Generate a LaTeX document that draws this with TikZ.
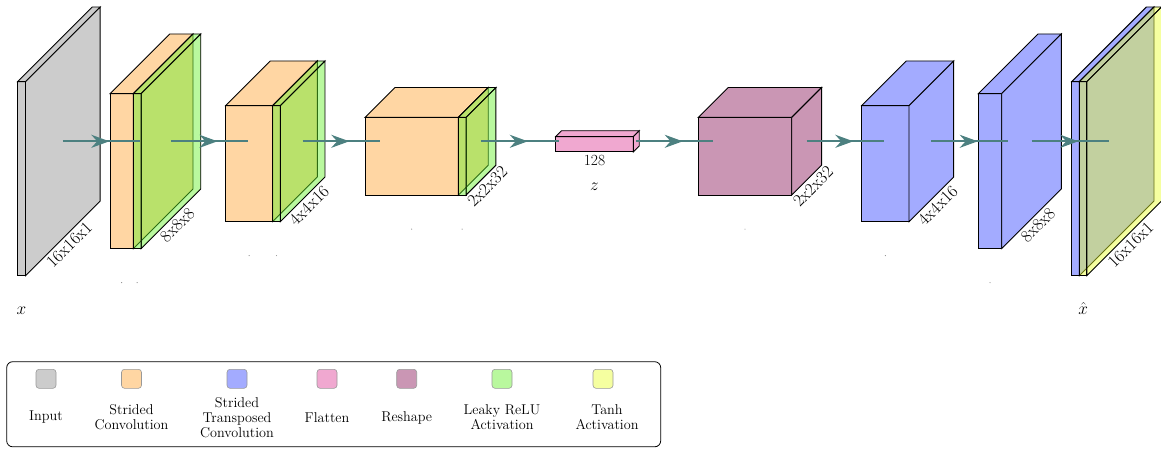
\documentclass[tikz,border=0pt]{standalone}
\usetikzlibrary{arrows.meta,decorations.markings}

\definecolor{inputgray}{RGB}{204,204,204}
\definecolor{convorange}{RGB}{255,214,163}
\definecolor{deconvblue}{RGB}{163,171,255}
\definecolor{flatpink}{RGB}{240,168,208}
\definecolor{reshapemauve}{RGB}{202,150,180}
\definecolor{leakygreen}{RGB}{100,240,40}
\definecolor{tanhyellow}{RGB}{233,255,44}
\definecolor{edgeteal}{RGB}{76,128,128}

% centre line of the network (mid depth of every block)
\newcommand{\netmid}{141.3}

% one block: #1 name, #2 left of front face, #3 width, #4 height, #5 face style
\newcommand{\layerbox}[5]{%
  \pgfmathsetmacro{\lbD}{0.385*#4}%
  \pgfmathsetmacro{\lbR}{#2+#3}%
  \pgfmathsetmacro{\lbT}{\netmid+\lbD/2-#4/2}%
  \pgfmathsetmacro{\lbB}{\lbT+#4}%
  \pgfmathsetmacro{\lbC}{#2+#3/2}%
  \draw[#5] (#2,\lbT) rectangle (\lbR,\lbB);
  \draw[#5] (#2,\lbT) -- ++(\lbD,-\lbD) -- ++(#3,0) -- (\lbR,\lbT) -- cycle;
  \draw[#5] (\lbR,\lbT) -- ++(\lbD,-\lbD) -- ++(0,#4) -- (\lbR,\lbB) -- cycle;
  \coordinate (#1-west) at ({#2+\lbD/2},\netmid);
  \coordinate (#1-east) at ({\lbR+\lbD/2},\netmid);
  \coordinate (#1-nse) at (\lbR,\lbB);
  \coordinate (#1-fse) at ({\lbR+\lbD},{\lbB-\lbD});
  \coordinate (#1-south) at (\lbC,\lbB);
  \coordinate (#1-cap) at (\lbC,{\lbB+39});
  \coordinate (#1-dot) at (\lbC,{\lbB+34});
}

\begin{document}
\begin{tikzpicture}[x=1pt, y=-1pt,
    face/.style={draw=black, line width=0.9pt},
    inputface/.style={face, fill=inputgray},
    convface/.style={face, fill=convorange},
    deconvface/.style={face, fill=deconvblue},
    flatface/.style={face, fill=flatpink},
    reshapeface/.style={face, fill=reshapemauve},
    leakyface/.style={face, fill=leakygreen, fill opacity=0.45},
    tanhface/.style={face, fill=tanhyellow, fill opacity=0.45},
    dimlabel/.style={font=\fontsize{17.3}{20}\selectfont, inner sep=3pt},
    caption/.style={font=\fontsize{17.3}{20}\selectfont, inner sep=0pt, anchor=base},
    conn/.style={draw=edgeteal, line width=1.8pt, postaction={decorate},
      decoration={markings, mark=at position 0.5 with {\arrow[xshift=8pt]{Stealth[length=18pt,width=13pt]}}}},
    swatch/.style={draw=black!40, line width=0.6pt, rounded corners=3pt,
      minimum width=20pt, minimum height=19pt, inner sep=0pt},
    legtext/.style={font=\fontsize{14.2}{15.2}\selectfont, align=center, inner sep=0pt}]
  \useasboundingbox (0,0) rectangle (1161,448);

  % encoder blocks
  \layerbox{input}{17.5}{8}{194}{inputface}
  \layerbox{conv1}{110}{23.3}{155}{convface}
  \layerbox{act1}{133.3}{7.8}{155}{leakyface}
  \layerbox{conv2}{225.7}{47}{116}{convface}
  \layerbox{act2}{272.7}{7.6}{116}{leakyface}
  \layerbox{conv3}{365}{93.3}{77.7}{convface}
  \layerbox{act3}{458.3}{7.7}{77.7}{leakyface}
  \layerbox{flat}{555.7}{77.6}{15.3}{flatface}
  % decoder blocks
  \layerbox{reshape}{698.3}{93.4}{77.7}{reshapeface}
  \layerbox{deconv1}{861.7}{47.3}{116}{deconvface}
  \layerbox{deconv2}{978.3}{23.4}{155}{deconvface}
  \layerbox{deconv3}{1071.7}{7.6}{194}{deconvface}
  \layerbox{tanh}{1079.3}{7.6}{194}{tanhface}

  % sizes along the depth edges
  \path (input-nse) -- (input-fse) node[midway, below, sloped, dimlabel] (input_dim) {16x16x1};
  \path (act1-nse) -- (act1-fse) node[midway, below, sloped, dimlabel] (act1_dim) {8x8x8};
  \path (act2-nse) -- (act2-fse) node[midway, below, sloped, dimlabel] (act2_dim) {4x4x16};
  \path (act3-nse) -- (act3-fse) node[midway, below, sloped, dimlabel] (act3_dim) {2x2x32};
  \path (reshape-nse) -- (reshape-fse) node[midway, below, sloped, dimlabel] (reshape_dim) {2x2x32};
  \path (deconv1-nse) -- (deconv1-fse) node[midway, below, sloped, dimlabel] (deconv1_dim) {4x4x16};
  \path (deconv2-nse) -- (deconv2-fse) node[midway, below, sloped, dimlabel] (deconv2_dim) {8x8x8};
  \path (tanh-nse) -- (tanh-fse) node[midway, below, sloped, dimlabel] (tanh_dim) {16x16x1};
  \node[font=\fontsize{15.5}{18}\selectfont, anchor=north, inner sep=3pt] (flat_dim) at (flat-south) {128};

  % captions
  \node[caption] (x_in) at (input-cap) {$x$};
  \node[caption] (z_code) at (flat-cap) {$z$};
  \node[caption] (x_out) at (tanh-cap) {$\hat{x}$};
  \foreach \lay in {conv1,act1,conv2,act2,conv3,act3,reshape,deconv1,deconv2}
    \fill[black!45] (\lay-dot) circle (0.6pt);

  % connections
  \draw[conn] (input-east) -- (conv1-west);
  \draw[conn] (act1-east) -- (conv2-west);
  \draw[conn] (act2-east) -- (conv3-west);
  \draw[conn] (act3-east) -- (flat-west);
  \draw[conn] (flat-east) -- (reshape-west);
  \draw[conn] (reshape-east) -- (deconv1-west);
  \draw[conn] (deconv1-east) -- (deconv2-west);
  \draw[conn] (deconv2-east) -- (deconv3-west);

  % legend
  \draw[rounded corners=6pt, line width=0.8pt] (6.7,361.7) rectangle (660.7,446.8);
  \node[swatch, fill=inputgray] (leg_input) at (46,378.8) {};
  \node[swatch, fill=convorange] (leg_conv) at (131.5,378.8) {};
  \node[swatch, fill=deconvblue] (leg_deconv) at (237,378.8) {};
  \node[swatch, fill=flatpink] (leg_flat) at (327,378.8) {};
  \node[swatch, fill=reshapemauve] (leg_reshape) at (406.7,378.8) {};
  \node[swatch, fill=leakygreen, fill opacity=0.45] (leg_leaky) at (502,378.8) {};
  \node[swatch, fill=tanhyellow, fill opacity=0.45] (leg_tanh) at (603,378.8) {};
  \node[legtext] (leg_input_txt) at (46,417.5) {Input};
  \node[legtext] (leg_conv_txt) at (131.5,417.5) {Strided\\Convolution};
  \node[legtext] (leg_deconv_txt) at (237,417.5) {Strided\\Transposed\\Convolution};
  \node[legtext] (leg_flat_txt) at (327,417.5) {Flatten};
  \node[legtext] (leg_reshape_txt) at (406.7,417.5) {Reshape};
  \node[legtext] (leg_leaky_txt) at (502,417.5) {Leaky ReLU\\Activation};
  \node[legtext] (leg_tanh_txt) at (607,417.5) {Tanh\\Activation};
\end{tikzpicture}
\end{document}
